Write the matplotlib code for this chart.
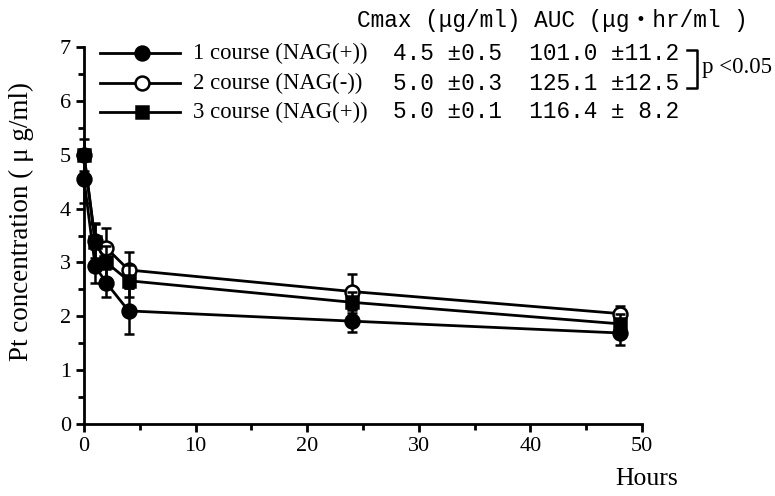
import matplotlib.pyplot as plt
from matplotlib.lines import Line2D

# Data
hours = [0, 1, 2, 4, 24, 48]

course1_mean = [4.55, 2.93, 2.62, 2.10, 1.91, 1.69]
course1_sd = [0.45, 0.32, 0.26, 0.42, 0.21, 0.22]

course2_mean = [5.00, 3.40, 3.27, 2.86, 2.46, 2.05]
course2_sd = [0.30, 0.32, 0.36, 0.33, 0.33, 0.14]

course3_mean = [5.00, 3.38, 3.00, 2.66, 2.26, 1.86]
course3_sd = [0.10, 0.35, 0.30, 0.30, 0.20, 0.18]

labels = ['1 course (NAG(+))', '2 course (NAG(-))', '3 course (NAG(+))']
stats = ['4.5 \u00b10.5  101.0 \u00b111.2',
         '5.0 \u00b10.3  125.1 \u00b112.5',
         '5.0 \u00b10.1  116.4 \u00b1 8.2']
header = 'Cmax (\u03bcg/ml) AUC (\u03bcg\u30fbhr/ml )'

serif = 'Liberation Serif'
mono = ['Liberation Mono', 'Noto Sans CJK JP']

fig = plt.figure(figsize=(7.75, 4.96), dpi=100)
ax = fig.add_axes([84 / 775, 1 - 424 / 496, (642 - 84) / 775, (424 - 47) / 496])

styles = [
    dict(marker='o', mfc='black', ms=10),
    dict(marker='o', mfc='white', ms=10),
    dict(marker='s', mfc='black', ms=9),
]
series = [(course1_mean, course1_sd), (course3_mean, course3_sd), (course2_mean, course2_sd)]
order = [0, 2, 1]

for idx, (m, sd) in zip(order, series):
    st = styles[idx]
    ax.errorbar(hours, m, yerr=sd, color='black', lw=2, elinewidth=1.8,
                capsize=3.6, capthick=1.8, marker=st['marker'], ms=st['ms'],
                mfc=st['mfc'], mec='black', mew=1.8, clip_on=False, zorder=3 + idx)

ax.set_xlim(0, 50)
ax.set_ylim(0, 7)
ax.set_xticks(range(0, 51, 10))
ax.set_xticks(range(0, 51, 5), minor=True)
ax.set_yticks(range(0, 8))
ax.set_yticks([i + 0.5 for i in range(7)], minor=True)
for s in ['top', 'right']:
    ax.spines[s].set_visible(False)
for s in ['left', 'bottom']:
    ax.spines[s].set_linewidth(2)
ax.tick_params(which='major', direction='out', length=6, width=2, labelsize=16)
ax.tick_params(which='minor', direction='out', length=4, width=2)
for lab in ax.get_xticklabels() + ax.get_yticklabels():
    lab.set_family(serif)

fig.text(21 / 775, 1 - 222 / 496, 'Pt concentration ( \u03bc g/ml)', rotation=90,
         ha='center', va='center', fontsize=19.5, family=serif)
fig.text(647 / 775, 1 - 479 / 496, 'Hours', ha='center', va='center',
         fontsize=18.5, family=serif)

# legend drawn by hand with the stats table
rows_y = [53, 83, 112]
for i, y in enumerate(rows_y):
    yf = 1 - y / 496
    st = styles[i]
    fig.add_artist(Line2D([100 / 775, 180 / 775], [yf, yf], color='black', lw=2,
                          transform=fig.transFigure))
    fig.add_artist(Line2D([142 / 775], [yf], marker=st['marker'], ms=st['ms'],
                          mfc=st['mfc'], mec='black', mew=1.8,
                          transform=fig.transFigure))
    fig.text(193 / 775, yf, labels[i], ha='left', va='center', fontsize=16.4, family=serif)
    fig.text(393 / 775, yf, stats[i], ha='left', va='center', fontsize=16.4, family=mono)

fig.text(357 / 775, 1 - 20 / 496, header, ha='left', va='center', fontsize=16.4, family=mono)

# significance bracket
bx0, bx1 = 687 / 775, 697 / 775
by0, by1 = 1 - 50 / 496, 1 - 88 / 496
fig.add_artist(Line2D([bx0, bx1, bx1, bx0], [by0, by0, by1, by1], color='black', lw=1.8,
                      transform=fig.transFigure))
fig.text(702 / 775, 1 - 68 / 496, 'p <0.05', ha='left', va='center', fontsize=16.5, family=serif)

fig.savefig('out.png', dpi=100)
